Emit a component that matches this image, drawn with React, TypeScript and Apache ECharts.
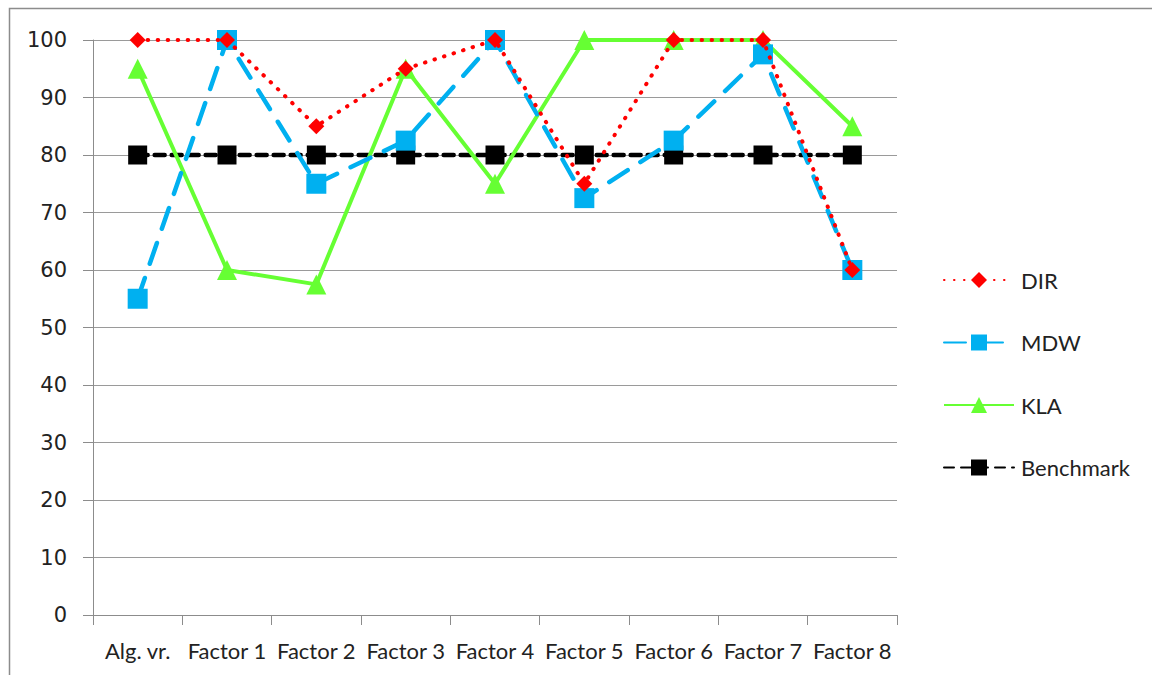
import React, { useEffect, useRef } from "react";
import * as echarts from "echarts";

const categories = ["Alg. vr.", "Factor 1", "Factor 2", "Factor 3", "Factor 4", "Factor 5", "Factor 6", "Factor 7", "Factor 8"];
const dirValues = [100, 100, 85, 95, 100, 75, 100, 100, 60];
const mdwValues = [55, 100, 75, 82.5, 100, 72.5, 82.5, 97.5, 60];
const klaValues = [95, 60, 57.5, 95, 75, 100, 100, 100, 85];
const benchmarkValues = [80, 80, 80, 80, 80, 80, 80, 80, 80];

export default function App() {
  const ref = useRef<HTMLDivElement>(null);
  useEffect(() => {
    document.body.style.margin = "0";
    const chart = echarts.init(ref.current!, null, { renderer: "svg" });
    chart.setOption({
      animation: false,
      backgroundColor: "#ffffff",
      graphic: [
        {
          type: "rect",
          shape: { x: 9.5, y: 8.5, width: 1200, height: 700 },
          style: { fill: "none", stroke: "#8c8c8c", lineWidth: 1.5 },
          silent: true,
        },
      ],
      grid: { left: 93, right: 255, top: 40, bottom: 60, containLabel: false },
      legend: {
        orient: "vertical",
        left: 938,
        top: 264,
        itemGap: 40.5,
        itemWidth: 70,
        itemHeight: 20,
        textStyle: { fontFamily: "Lato", fontSize: 22, lineHeight: 20, color: "#222", padding: [0, 0, 0, 2] },
        data: ["DIR", "MDW", "KLA", "Benchmark"],
      },
      xAxis: {
        type: "category",
        data: categories,
        boundaryGap: true,
        axisLine: { lineStyle: { color: "#8c8c8c", width: 1 } },
        axisTick: { show: true, length: 10, lineStyle: { color: "#8c8c8c" }, inside: false },
        axisLabel: { fontFamily: "Lato", fontSize: 22, color: "#222", margin: 24, interval: 0 },
      },
      yAxis: {
        type: "value",
        min: 0,
        max: 100,
        interval: 10,
        axisLine: { show: true, lineStyle: { color: "#8c8c8c", width: 1 } },
        axisTick: { show: true, length: 10, lineStyle: { color: "#8c8c8c" } },
        axisLabel: { fontFamily: "DejaVu Sans", fontSize: 21, color: "#222", margin: 26 },
        splitLine: { lineStyle: { color: "#9a9a9a", width: 1 } },
      },
      series: [
        {
          name: "DIR",
          type: "line",
          data: dirValues,
          symbol: "diamond",
          symbolSize: 16,
          itemStyle: { color: "#ff0000" },
          lineStyle: { color: "#ff0000", width: 4, type: [0.5, 9.5], cap: "round" },
          z: 4,
        },
        {
          name: "MDW",
          type: "line",
          data: mdwValues,
          symbol: "rect",
          symbolSize: 20,
          itemStyle: { color: "#00b0f0" },
          lineStyle: { color: "#00b0f0", width: 4.5, type: [22, 15], cap: "round" },
          z: 3,
        },
        {
          name: "KLA",
          type: "line",
          data: klaValues,
          symbol: "triangle",
          symbolSize: 20,
          itemStyle: { color: "#66ff33" },
          lineStyle: { color: "#66ff33", width: 4 },
          z: 2,
        },
        {
          name: "Benchmark",
          type: "line",
          data: benchmarkValues,
          symbol: "rect",
          symbolSize: 19,
          itemStyle: { color: "#000000" },
          lineStyle: { color: "#000000", width: 4.5, type: [10, 7], cap: "round" },
          z: 1,
        },
      ],
    });
    return () => chart.dispose();
  }, []);
  return <div ref={ref} style={{ width: 1152, height: 675 }} />;
}
